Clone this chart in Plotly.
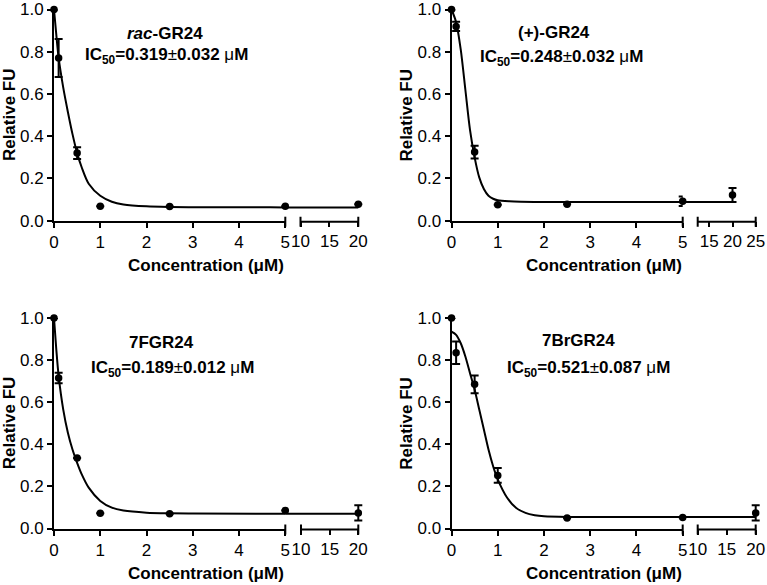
import plotly.graph_objects as go

W, H = 767, 585
FONT = "Arial, 'Liberation Sans', sans-serif"

# ---------------- data ----------------
conc = [0, 0.1, 0.5, 1, 2.5, 5, 20]

rac_fu = [1.0, 0.77, 0.32, 0.068, 0.067, 0.069, 0.078]
rac_sd = [0, 0.09, 0.028, 0, 0, 0, 0]
plus_fu = [1.0, 0.92, 0.325, 0.076, 0.078, 0.092, 0.122]
plus_sd = [0, 0.022, 0.03, 0, 0, 0.022, 0.033]
f_fu = [1.0, 0.715, 0.335, 0.073, 0.07, 0.086, 0.074]
f_sd = [0, 0.025, 0, 0, 0, 0, 0.036]
br_fu = [1.0, 0.835, 0.685, 0.252, 0.05, 0.052, 0.074]
br_sd = [0, 0.053, 0.042, 0.035, 0, 0, 0.036]

# fitted curves
rac_fit_x = [0, 0.05, 0.1, 0.2, 0.3, 0.4, 0.5, 0.6, 0.75, 1.0, 1.25, 1.5, 2.0, 2.5, 3, 5, 20]
rac_fit_y = [1.0, 0.88, 0.772, 0.63, 0.515, 0.41, 0.32, 0.252, 0.175, 0.118, 0.09, 0.077, 0.068, 0.065, 0.064, 0.063, 0.063]
plus_fit_x = [0, 0.1, 0.2, 0.3, 0.4, 0.5, 0.6, 0.7, 0.8, 0.9, 1.0, 1.25, 1.5, 2, 5, 20]
plus_fit_y = [1.0, 0.94, 0.81, 0.62, 0.43, 0.30, 0.205, 0.15, 0.118, 0.104, 0.097, 0.092, 0.09, 0.089, 0.088, 0.088]
f_fit_x = [0, 0.05, 0.1, 0.2, 0.3, 0.4, 0.5, 0.6, 0.75, 1.0, 1.25, 1.5, 2.0, 2.5, 3, 5, 20]
f_fit_y = [1.0, 0.85, 0.725, 0.565, 0.455, 0.375, 0.312, 0.257, 0.194, 0.131, 0.099, 0.085, 0.075, 0.072, 0.071, 0.07, 0.07]
br_fit_x = [0, 0.1, 0.2, 0.3, 0.4, 0.5, 0.6, 0.7, 0.8, 0.9, 1.0, 1.2, 1.4, 1.6, 1.8, 2.0, 2.5, 5, 20]
br_fit_y = [0.935, 0.92, 0.88, 0.817, 0.738, 0.66, 0.565, 0.47, 0.375, 0.296, 0.233, 0.147, 0.097, 0.074, 0.063, 0.058, 0.055, 0.055, 0.055]

names = ["<i>rac</i>-GR24", "(+)-GR24", "7FGR24", "7BrGR24"]
ic50 = ["0.319", "0.248", "0.189", "0.521"]
ic50_err = ["0.032", "0.032", "0.012", "0.087"]

seg1_ticks = [0, 1, 2, 3, 4, 5]
seg2_range = [[10, 20], [12.5, 25], [10, 20], [10, 20]]
seg2_ticks = [[10, 15, 20], [15, 20, 25], [10, 15, 20], [10, 15, 20]]
y_ticks = [0.0, 0.2, 0.4, 0.6, 0.8, 1.0]

series = [
    (rac_fu, rac_sd, rac_fit_x, rac_fit_y),
    (plus_fu, plus_sd, plus_fit_x, plus_fit_y),
    (f_fu, f_sd, f_fit_x, f_fit_y),
    (br_fu, br_sd, br_fit_x, br_fit_y),
]

# ---------------- layout geometry (pixels) ----------------
geom = [
    dict(left=54, x5=285.3, s2s=300.5, s2e=358.3, top=9.5, bot=220.7,
         tx=165, ty=33, ix=166, iy=56),
    dict(left=451.5, x5=682.7, s2s=697.7, s2e=755.7, top=9.5, bot=220.7,
         tx=554, ty=32, ix=561, iy=58),
    dict(left=54, x5=285.3, s2s=301.0, s2e=358.3, top=318, bot=528.5,
         tx=161, ty=342, ix=172, iy=369),
    dict(left=451.5, x5=682.7, s2s=697.7, s2e=755.7, top=318, bot=528.5,
         tx=578, ty=340, ix=588, iy=369),
]

fig = go.Figure()
layout = dict(width=W, height=H, margin=dict(l=0, r=0, t=0, b=0, pad=0, autoexpand=False),
              paper_bgcolor="white", plot_bgcolor="rgba(0,0,0,0)", showlegend=False,
              font=dict(family=FONT, color="black"))
shapes, annotations = [], []

tickfont = dict(family=FONT, size=17, color="black")
axis_common = dict(showgrid=False, zeroline=False, ticks="outside", ticklen=5,
                   tickwidth=2, tickcolor="black", linecolor="black", linewidth=2,
                   tickfont=tickfont, fixedrange=True, automargin=False)

for k, (g, (fu, sd, fx, fy)) in enumerate(zip(geom, series)):
    xa = "x" if k == 0 else f"x{2 * k + 1}"
    xb = f"x{2 * k + 2}"
    ya = "y" if k == 0 else f"y{k + 1}"
    xa_key = "xaxis" if k == 0 else f"xaxis{2 * k + 1}"
    xb_key = f"xaxis{2 * k + 2}"
    ya_key = "yaxis" if k == 0 else f"yaxis{k + 1}"

    s0, s1 = seg2_range[k]
    ppu = (g["s2e"] - g["s2s"]) / (s1 - s0)
    extra = 8
    r0 = s0 - (g["s2s"] - g["x5"]) / ppu
    r1 = s1 + extra / ppu

    ydom = [1 - g["bot"] / H, 1 - g["top"] / H]
    layout[xa_key] = dict(axis_common, domain=[g["left"] / W, g["x5"] / W],
                          range=[0, 5], anchor=ya, showline=True,
                          tickvals=seg1_ticks, ticktext=[str(t) for t in seg1_ticks])
    layout[xb_key] = dict(axis_common, domain=[g["x5"] / W, (g["s2e"] + extra) / W],
                          range=[r0, r1], anchor=ya, showline=False,
                          tickvals=seg2_ticks[k], ticktext=[str(t) for t in seg2_ticks[k]])
    layout[ya_key] = dict(axis_common, domain=ydom, range=[0, 1.0], anchor=xa,
                          showline=True, tickvals=y_ticks,
                          ticktext=[f"{t:.1f}" for t in y_ticks])

    # fitted curve on both segments (clipped by each axis)
    for xr in (xa, xb):
        fig.add_trace(go.Scatter(x=fx, y=fy, mode="lines", xaxis=xr, yaxis=ya,
                                 line=dict(color="black", width=2, shape="spline",
                                           smoothing=0.8),
                                 hoverinfo="skip"))

    # data points
    for xr, cond in ((xa, lambda c: c <= 5), (xb, lambda c: c > 5)):
        px = [c for c in conc if cond(c)]
        py = [v for c, v in zip(conc, fu) if cond(c)]
        pe = [(e if e > 0 else None) for c, e in zip(conc, sd) if cond(c)]
        fig.add_trace(go.Scatter(x=px, y=py, mode="markers", xaxis=xr, yaxis=ya,
                                 cliponaxis=False,
                                 marker=dict(color="black", size=7.5),
                                 error_y=dict(type="data", array=pe, visible=True,
                                              color="black", thickness=2, width=4)))

    # broken axis: second segment line and segment-end marks
    shapes.append(dict(type="line", xref=xb, x0=s0, x1=s1, yref=f"{ya} domain",
                       ysizemode="pixel", yanchor=0, y0=-1, y1=-1,
                       line=dict(color="black", width=2)))
    shapes.append(dict(type="line", xref=f"{xa} domain", x0=1, x1=1,
                       yref=f"{ya} domain", ysizemode="pixel", yanchor=0,
                       y0=-6, y1=4, line=dict(color="black", width=2)))
    for xv in (s0, s1):
        shapes.append(dict(type="line", xref=xb, x0=xv, x1=xv,
                           yref=f"{ya} domain", ysizemode="pixel", yanchor=0,
                           y0=-6, y1=4, line=dict(color="black", width=2)))

    # axis titles
    annotations.append(dict(text="<b>Concentration (μM)</b>", xref="paper", yref="paper",
                            x=(g["left"] + g["s2e"]) / 2 / W, y=1 - (g["bot"] + 45) / H,
                            xanchor="center", yanchor="middle", showarrow=False,
                            font=dict(family=FONT, size=17, color="black")))
    annotations.append(dict(text="<b>Relative FU</b>", xref="paper", yref="paper",
                            x=(g["left"] - 45) / W, y=1 - (g["top"] + g["bot"]) / 2 / H,
                            xanchor="center", yanchor="middle", showarrow=False,
                            textangle=-90,
                            font=dict(family=FONT, size=17, color="black")))
    # compound name and IC50
    annotations.append(dict(text=f"<b>{names[k]}</b>", xref="paper", yref="paper",
                            x=g["tx"] / W, y=1 - g["ty"] / H,
                            xanchor="center", yanchor="middle", showarrow=False,
                            font=dict(family=FONT, size=17, color="black")))
    annotations.append(dict(text=f"<b>IC<sub>50</sub>={ic50[k]}</b>±<b>{ic50_err[k]} </b>μ<b>M</b>",
                            xref="paper", yref="paper",
                            x=g["ix"] / W, y=1 - g["iy"] / H,
                            xanchor="center", yanchor="middle", showarrow=False,
                            font=dict(family=FONT, size=17, color="black")))

layout["shapes"] = shapes
layout["annotations"] = annotations
fig.update_layout(**layout)
fig.write_html("out.html",
               config={"displayModeBar": False, "staticPlot": True},
               post_script="document.body.style.margin='0';document.body.style.overflow='hidden';")
